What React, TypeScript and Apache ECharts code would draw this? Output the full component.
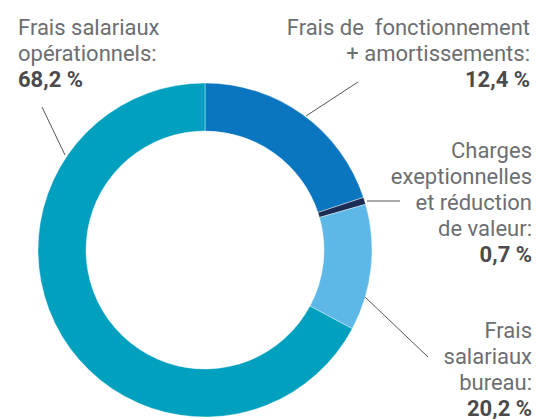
import React, { useEffect, useRef } from "react";
import * as echarts from "echarts";

// Segments in clockwise order from 12 o'clock
const segmentValues = [20.2, 0.7, 12.4, 68.2];
const segmentColors = ["#0a76c0", "#1b2d56", "#5db8e7", "#00a0be"];
const labelTexts = [
  ["Frais de  fonctionnement", "+ amortissements:"],
  ["Charges", "exeptionnelles", "et réduction", "de valeur:"],
  ["Frais", "salariaux", "bureau:"],
  ["Frais salariaux", "opérationnels:"],
];
const labelPercents = ["12,4 %", "0,7 %", "20,2 %", "68,2 %"];

// label placement (layout only)
const labelPlacement = [
  { x: 530, y: 14, align: "right", line: [[306, 116], [358, 82]] },
  { x: 532, y: 137, align: "right", line: [[367, 201], [400, 201]] },
  { x: 532, y: 317, align: "right", line: [[365, 297], [428, 357]] },
  { x: 18, y: 14, align: "left", line: [[65, 155], [42, 107]] },
];

export default function App() {
  const ref = useRef<HTMLDivElement>(null);
  useEffect(() => {
    const chart = echarts.init(ref.current!, undefined, { renderer: "svg" });
    const font = "Roboto, 'Noto Sans', sans-serif";
    chart.setOption({
      animation: false,
      backgroundColor: "#ffffff",
      series: [
        {
          type: "pie",
          center: [205, 250],
          radius: [119, 167],
          startAngle: 90,
          clockwise: true,
          avoidLabelOverlap: false,
          silent: true,
          data: segmentValues.map((v, i) => ({
            value: v,
            name: labelTexts[i].join(" "),
            itemStyle: { color: segmentColors[i], borderColor: "#ffffff", borderWidth: 0.4 },
            label: {
              align: labelPlacement[i].align,
              formatter: () =>
                labelTexts[i].map((t) => `{n|${t}}`).join("\n") +
                `\n{b|${labelPercents[i]}}`,
            },
          })),
          label: {
            show: true,
            position: "outside",
            rich: {
              n: {
                fontFamily: font,
                fontSize: 22,
                color: "#6d6e71",
                lineHeight: 26,
              },
              b: {
                fontFamily: font,
                fontSize: 22,
                fontWeight: "bold",
                color: "#4b4b4d",
                lineHeight: 26,
              },
            },
          },
          labelLine: {
            show: true,
            lineStyle: { color: "#555555", width: 1 },
          },
          labelLayout: (params: any) => {
            const p = labelPlacement[params.dataIndex];
            return {
              x: p.x,
              y: p.y,
              align: p.align,
              verticalAlign: "top",
              labelLinePoints: p.line,
            };
          },
        },
      ],
    });
    return () => chart.dispose();
  }, []);
  return (
    <div
      ref={ref}
      style={{ position: "absolute", left: 0, top: 0, width: 538, height: 419 }}
    />
  );
}
